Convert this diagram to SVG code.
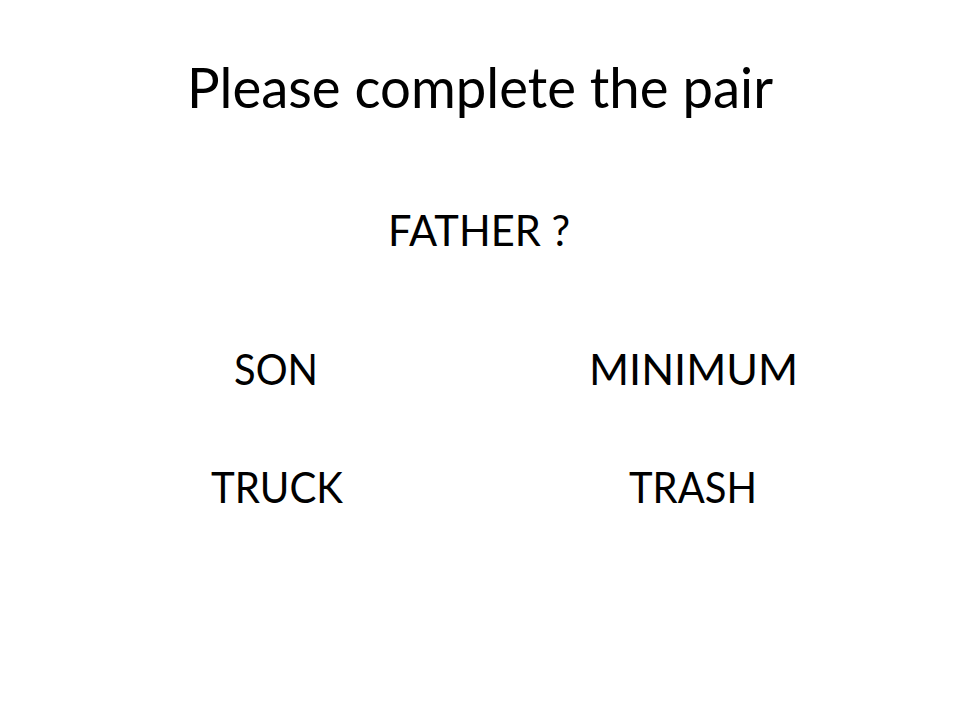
<svg xmlns="http://www.w3.org/2000/svg" width="960" height="720" viewBox="0 0 960 720">
<style>
text{font-family:Lato,"Open Sans","Liberation Sans",sans-serif;fill:#000;text-anchor:middle}
.t{font-size:57px}
.w{font-size:42px}
</style>
<rect width="960" height="720" fill="#fff"/>
<g id="title"><text class="t" x="480" y="108" textLength="586" lengthAdjust="spacingAndGlyphs">Please complete the pair</text></g>
<g id="father"><text class="w" x="479" y="246" textLength="182" lengthAdjust="spacingAndGlyphs">FATHER ?</text></g>
<g id="son"><text class="w" x="276" y="385" textLength="84" lengthAdjust="spacingAndGlyphs">SON</text></g>
<g id="minimum"><text class="w" x="693.5" y="385" textLength="209" lengthAdjust="spacingAndGlyphs">MINIMUM</text></g>
<g id="truck"><text class="w" x="277" y="503" textLength="132" lengthAdjust="spacingAndGlyphs">TRUCK</text></g>
<g id="trash"><text class="w" x="693" y="503" textLength="128" lengthAdjust="spacingAndGlyphs">TRASH</text></g>
<g id="connectors"/>
</svg>
